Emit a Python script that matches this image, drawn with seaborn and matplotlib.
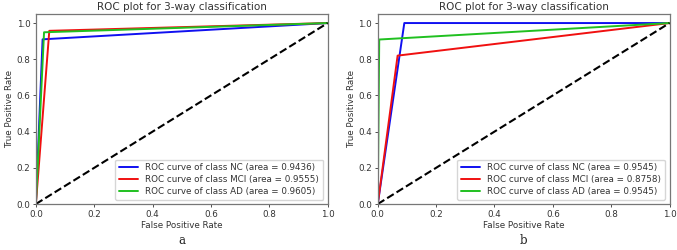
import pandas as pd
import seaborn as sns
import matplotlib.pyplot as plt

# ROC points (one threshold each)
classes = ['NC', 'MCI', 'AD']
fpr_a = [[0.0, 0.023, 1.0], [0.0, 0.046, 1.0], [0.0, 0.028, 1.0]]
tpr_a = [[0.0, 0.910, 1.0], [0.0, 0.957, 1.0], [0.0, 0.949, 1.0]]
auc_a = ['0.9436', '0.9555', '0.9605']

fpr_b = [[0.0, 0.091, 1.0], [0.0, 0.068, 1.0], [0.0, 0.005, 1.0]]
tpr_b = [[0.0, 1.0, 1.0], [0.0, 0.820, 1.0], [0.0, 0.909, 1.0]]
auc_b = ['0.9545', '0.8758', '0.9545']

colors = ['#1010f0', '#f01010', '#20c020']


def make_df(fpr, tpr, auc):
    rows = []
    for i, c in enumerate(classes):
        label = f'ROC curve of class {c} (area = {auc[i]})'
        for x, y in zip(fpr[i], tpr[i]):
            rows.append({'fpr': x, 'tpr': y, 'curve': label})
    return pd.DataFrame(rows)


sns.set_style('ticks')
plt.rcParams['font.family'] = ['DejaVu Sans']

fig = plt.figure(figsize=(6.77, 2.5), dpi=100)
ax1 = fig.add_axes([0.053, 0.184, 0.431, 0.76])
ax2 = fig.add_axes([0.558, 0.184, 0.431, 0.76])

for ax, fpr, tpr, auc, tag in [(ax1, fpr_a, tpr_a, auc_a, 'a'),
                               (ax2, fpr_b, tpr_b, auc_b, 'b')]:
    df = make_df(fpr, tpr, auc)
    sns.lineplot(data=df, x='fpr', y='tpr', hue='curve', palette=colors,
                 sort=False, estimator=None, linewidth=1.4, ax=ax)
    ax.plot([0, 1], [0, 1], 'k--', linewidth=1.5)
    ax.set_xlim(0, 1.0)
    ax.set_ylim(0, 1.05)
    ax.set_title('ROC plot for 3-way classification', fontsize=7.5, pad=3, color='#333333')
    ax.set_xlabel('False Positive Rate', fontsize=6.3, color='#333333', labelpad=2)
    ax.set_ylabel('True Positive Rate', fontsize=6.3, color='#333333', labelpad=2)
    ax.tick_params(labelsize=6.3, length=2.5, width=0.6, pad=1.5, colors='#333333')
    for s in ax.spines.values():
        s.set_color('#777777')
        s.set_linewidth(0.9)
    leg = ax.legend(loc='lower right', fontsize=6.3, frameon=True, title=None,
                    handlelength=2.2, borderpad=0.45, labelspacing=0.3)
    for t in leg.get_texts():
        t.set_color('#333333')
    pos = ax.get_position()
    fig.text(pos.x0 + pos.width / 2, 0.01, tag, ha='center', va='bottom',
             fontsize=8.5, family='DejaVu Serif', color='#222222')

fig.savefig('out.png', dpi=100)
